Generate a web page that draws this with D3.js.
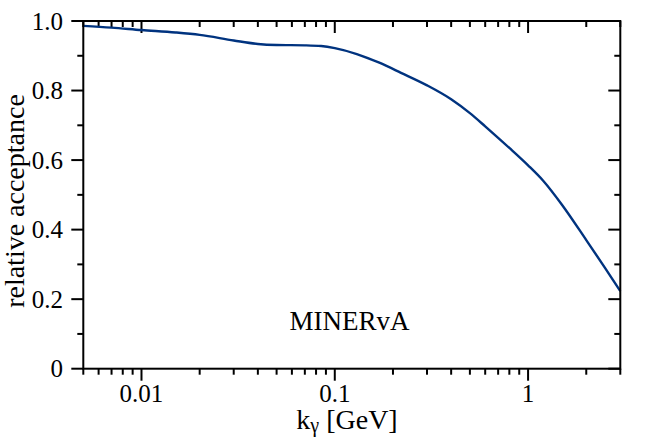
<!DOCTYPE html>
<html><head><meta charset="utf-8">
<script src="https://cdn.jsdelivr.net/npm/d3@7"></script>
<style>body{margin:0;background:#fff}svg{display:block}text{font-family:"Liberation Serif","DejaVu Serif",serif;fill:#000}</style>
</head><body><svg id="c" width="656" height="437"></svg>
<script>
const kGamma = [0.005, 0.007, 0.01, 0.015, 0.02, 0.03, 0.04, 0.05, 0.07, 0.085, 0.1, 0.13, 0.17, 0.22, 0.3, 0.4, 0.5, 0.6, 0.7, 0.8, 1.0, 1.2, 1.5, 2.0, 2.5, 3.0];
const acceptance = [0.986, 0.981, 0.974, 0.967, 0.960, 0.944, 0.934, 0.931, 0.930, 0.928, 0.922, 0.905, 0.880, 0.851, 0.815, 0.775, 0.735, 0.697, 0.664, 0.635, 0.585, 0.540, 0.471, 0.370, 0.290, 0.223];
const xMajorTicks = [0.01, 0.1, 1];
const xTickLabels = ["0.01", "0.1", "1"];
const yMajorTicks = [0, 0.2, 0.4, 0.6, 0.8, 1.0];
const yTickLabels = ["0", "0.2", "0.4", "0.6", "0.8", "1.0"];
const yMinorTicks = [0.1, 0.3, 0.5, 0.7, 0.9];
const xDomain = [0.005, 3];
const yDomain = [0, 1];

const svg = d3.select("#c");
const L = 83.3, R = 620.3, T = 21, B = 368.7;
const x = d3.scaleLog().domain(xDomain).range([L, R]);
const y = d3.scaleLinear().domain(yDomain).range([B, T]);

const xMinor = [];
for (let d = 0.001; d <= 10; d *= 10) for (let m = 2; m <= 9; m++) { const v = m * d; if (v >= xDomain[0] && v <= xDomain[1] + 1e-9) xMinor.push(v); }

const major = 12, minor = 6;
const g = svg.append("g").attr("stroke", "#000").attr("stroke-width", 2);
xMajorTicks.forEach(v => g.append("line").attr("x1", x(v)).attr("x2", x(v)).attr("y1", B).attr("y2", B + major));
xMinor.forEach(v => g.append("line").attr("x1", x(v)).attr("x2", x(v)).attr("y1", B).attr("y2", B + minor));
xMajorTicks.forEach(v => g.append("line").attr("x1", x(v)).attr("x2", x(v)).attr("y1", T).attr("y2", T + major));
xMinor.forEach(v => g.append("line").attr("x1", x(v)).attr("x2", x(v)).attr("y1", T).attr("y2", T + minor));
yMajorTicks.forEach(v => g.append("line").attr("x1", L - major).attr("x2", L).attr("y1", y(v)).attr("y2", y(v)));
yMinorTicks.forEach(v => g.append("line").attr("x1", L - minor).attr("x2", L).attr("y1", y(v)).attr("y2", y(v)));
yMajorTicks.forEach(v => g.append("line").attr("x1", R - major).attr("x2", R).attr("y1", y(v)).attr("y2", y(v)));
yMinorTicks.forEach(v => g.append("line").attr("x1", R - minor).attr("x2", R).attr("y1", y(v)).attr("y2", y(v)));

const line = d3.line().x((d, i) => x(kGamma[i])).y(d => y(d)).curve(d3.curveMonotoneX);
svg.append("path").datum(acceptance).attr("d", line).attr("fill", "none")
  .attr("stroke", "#00337f").attr("stroke-width", 2.4);

svg.append("rect").attr("x", L).attr("y", T).attr("width", R - L).attr("height", B - T)
  .attr("fill", "none").attr("stroke", "#000").attr("stroke-width", 2);

xMajorTicks.forEach((v, i) => svg.append("text").attr("x", x(v)).attr("y", 402).attr("text-anchor", "middle")
  .attr("font-size", 25).text(xTickLabels[i]));
yMajorTicks.forEach((v, i) => svg.append("text").attr("x", 63).attr("y", y(v)).attr("dy", "0.35em")
  .attr("text-anchor", "end").attr("font-size", 25).text(yTickLabels[i]));

const xt = svg.append("text").attr("x", 347).attr("y", 429).attr("text-anchor", "middle").attr("font-size", 28);
xt.append("tspan").text("k");
xt.append("tspan").attr("font-size", 20).attr("dy", 3).text("γ");
xt.append("tspan").attr("dy", -3).text(" [GeV]");

svg.append("text").attr("transform", "translate(24,201) rotate(-90)").attr("text-anchor", "middle")
  .attr("font-size", 28).text("relative acceptance");

svg.append("text").attr("x", 349.5).attr("y", 330).attr("text-anchor", "middle").attr("font-size", 27).text("MINERvA");
</script></body></html>
